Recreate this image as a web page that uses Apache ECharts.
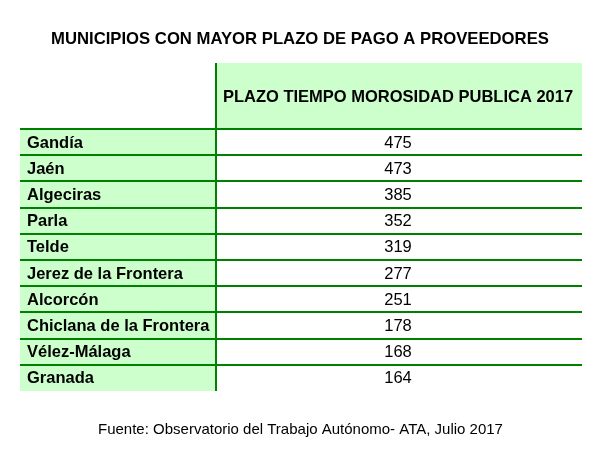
<!DOCTYPE html>
<html><head><meta charset="utf-8">
<script src="https://cdn.jsdelivr.net/npm/echarts@6/dist/echarts.min.js"></script>
<style>html,body{margin:0;padding:0;background:#fff}#c{width:612px;height:461px}</style>
</head><body><div id="c"></div>
<script>
// ---- data ----
const chartTitle = 'MUNICIPIOS CON MAYOR PLAZO DE PAGO A PROVEEDORES';
const columnHeader = 'PLAZO TIEMPO MOROSIDAD PUBLICA 2017';
const municipios = ['Gandía', 'Jaén', 'Algeciras', 'Parla', 'Telde', 'Jerez de la Frontera', 'Alcorcón', 'Chiclana de la Frontera', 'Vélez-Málaga', 'Granada'];
const plazos = [475, 473, 385, 352, 319, 277, 251, 178, 168, 164];
const sourceNote = 'Fuente: Observatorio del Trabajo Autónomo- ATA, Julio 2017';

// ---- style ----
const FONT = "'Liberation Sans', Arial, sans-serif";
const LINE = '#008000';
const FILL = '#CCFFCC';
const LW = 2;

const chart = echarts.init(document.getElementById('c'), null, { renderer: 'canvas' });

function cellRect(api) {
  const c = api.coord([0, api.value(1)]);
  const s = api.size([1, 1]);
  return { x: c[0], y: c[1] - s[1] / 2, width: s[0], height: s[1] };
}
function hLine(x1, x2, y) {
  const yy = Math.round(y);
  return { type: 'line', z2: 10, shape: { x1: x1, y1: yy, x2: x2, y2: yy }, style: { stroke: LINE, lineWidth: LW } };
}
function vLine(x, y1, y2) {
  const xx = Math.round(x);
  return { type: 'line', z2: 10, shape: { x1: xx, y1: y1, x2: xx, y2: y2 }, style: { stroke: LINE, lineWidth: LW } };
}
function txt(s, x, y, align, bold) {
  return { type: 'text', z2: 20, x: x, y: y, style: { text: s, fill: '#000', fontFamily: FONT, fontSize: 16.5, fontWeight: bold ? 'bold' : 'normal', align: align, verticalAlign: 'middle' } };
}

const hiddenX = (i) => ({ type: 'value', gridIndex: i, min: 0, max: 1, show: false });
const hiddenY = (i, data) => ({ type: 'category', gridIndex: i, data: data, inverse: true, show: false });

const option = {
  backgroundColor: '#ffffff',
  animation: false,
  title: [
    { text: chartTitle, left: 51, top: 31, padding: 0, textStyle: { fontFamily: FONT, fontSize: 16.7, fontWeight: 'bold', color: '#000' } },
    { text: sourceNote, left: 98, top: 422, padding: 0, textStyle: { fontFamily: FONT, fontSize: 15, fontWeight: 'normal', color: '#000' } }
  ],
  grid: [
    { left: 216, right: 30, top: 63, height: 66 },
    { left: 20, width: 196, top: 129, height: 262 },
    { left: 216, right: 30, top: 129, height: 262 }
  ],
  xAxis: [hiddenX(0), hiddenX(1), hiddenX(2)],
  yAxis: [hiddenY(0, [columnHeader]), hiddenY(1, municipios), hiddenY(2, municipios)],
  series: [
    {
      type: 'custom', xAxisIndex: 0, yAxisIndex: 0, clip: false,
      data: [[0, 0]],
      renderItem: function (params, api) {
        const r = cellRect(api);
        return { type: 'group', children: [
          { type: 'rect', shape: r, style: { fill: FILL } },
          vLine(r.x, r.y, r.y + r.height),
          txt(columnHeader, r.x + r.width / 2 - 1, r.y + r.height / 2 + 1, 'center', true)
        ] };
      }
    },
    {
      type: 'custom', xAxisIndex: 1, yAxisIndex: 1, clip: false,
      data: municipios.map((m, i) => [0, i]),
      renderItem: function (params, api) {
        const r = cellRect(api);
        return { type: 'group', children: [
          { type: 'rect', shape: r, style: { fill: FILL } },
          hLine(r.x, r.x + r.width, r.y),
          txt(municipios[params.dataIndex], r.x + 7, r.y + r.height / 2 + 1, 'left', true)
        ] };
      }
    },
    {
      type: 'custom', xAxisIndex: 2, yAxisIndex: 2, clip: false,
      data: plazos.map((v, i) => [0, i, v]),
      renderItem: function (params, api) {
        const r = cellRect(api);
        return { type: 'group', children: [
          hLine(r.x, r.x + r.width, r.y),
          vLine(r.x, r.y, r.y + r.height),
          txt(String(api.value(2)), r.x + r.width / 2 - 1, r.y + r.height / 2 + 1, 'center', false)
        ] };
      }
    }
  ]
};
chart.setOption(option);
</script>
</body></html>
